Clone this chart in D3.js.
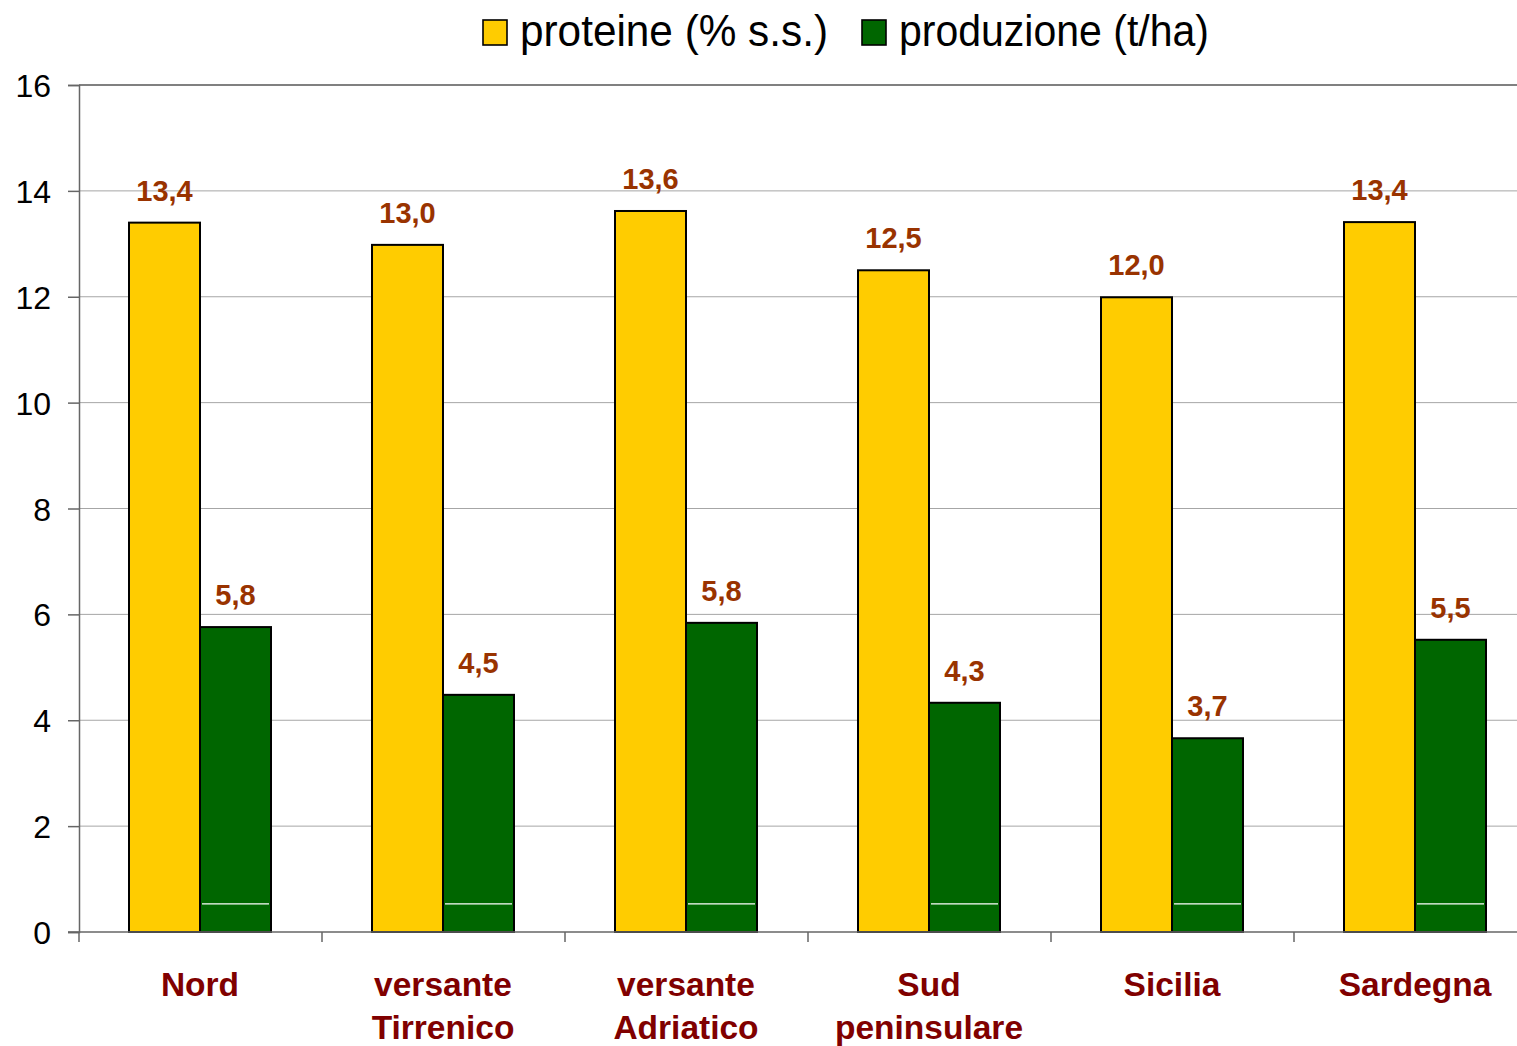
<!DOCTYPE html>
<html><head><meta charset="utf-8">
<script src="https://cdn.jsdelivr.net/npm/d3@7"></script>
<style>html,body{margin:0;padding:0;background:#fff;}svg{display:block;}</style>
</head><body>
<svg id="chart" width="1517" height="1046"></svg>
<script>
const categories = [["Nord"], ["versante", "Tirrenico"], ["versante", "Adriatico"], ["Sud", "peninsulare"], ["Sicilia"], ["Sardegna"]];
const seriesNames = ["proteine (% s.s.)", "produzione (t/ha)"];
const proteine = [13.4, 12.98, 13.62, 12.5, 11.99, 13.41];
const produzione = [5.76, 4.48, 5.84, 4.33, 3.66, 5.52];
const yTicks = [0, 2, 4, 6, 8, 10, 12, 14, 16];
const colors = ["#FFCC00", "#006600"];

const svg = d3.select("#chart");
const m = {left: 79, right: 1537, top: 85, bottom: 932};
const keys = categories.map(c => c.join(" "));
const x = d3.scaleBand().domain(keys).range([m.left, m.right]).padding(0);
const inner = d3.scaleBand().domain([0, 1]).range([50, 192]).padding(0);
const y = d3.scaleLinear().domain([0, 16]).range([m.bottom, m.top]);
const fmt = v => d3.format(".1f")(v).replace(".", ",");
const FONT = "Liberation Sans, Arial, sans-serif";

// gridlines
svg.append("g").selectAll("line").data(yTicks.filter(t => t > 0)).join("line")
  .attr("x1", m.left).attr("x2", m.right)
  .attr("y1", d => y(d)).attr("y2", d => y(d))
  .attr("stroke", d => d === 16 ? "#808080" : "#a6a6a6")
  .attr("stroke-width", d => d === 16 ? 2 : 1);

// y axis
const yAxis = svg.append("g").attr("transform", `translate(${m.left},0)`)
  .call(d3.axisLeft(y).tickValues(yTicks).tickSize(11).tickPadding(17).tickFormat(d3.format("d")));
yAxis.select(".domain").attr("stroke", "#666").attr("stroke-width", 1.5);
yAxis.selectAll(".tick line").attr("stroke", "#666").attr("stroke-width", 1.5);
yAxis.selectAll("text").attr("font-family", FONT).attr("font-size", 32).attr("fill", "#000").attr("dy", "0.36em");

// bars
const data = keys.map((k, i) => ({k, vals: [proteine[i], produzione[i]]}));
const groups = svg.append("g").selectAll("g").data(data).join("g")
  .attr("transform", d => `translate(${x(d.k)},0)`);
groups.selectAll("rect").data(d => d.vals.map((v, j) => ({v, j}))).join("rect")
  .attr("x", d => inner(d.j)).attr("width", inner.bandwidth())
  .attr("y", d => y(d.v)).attr("height", d => y(0) - y(d.v))
  .attr("fill", d => colors[d.j]).attr("stroke", "#000").attr("stroke-width", 2);
// thin white line inside green bars
groups.append("line")
  .attr("x1", inner(1) + 2).attr("x2", inner(1) + inner.bandwidth() - 2)
  .attr("y1", y(0.53)).attr("y2", y(0.53))
  .attr("stroke", "#fff").attr("stroke-width", 1.2);
// value labels
groups.selectAll("text.val").data(d => d.vals.map((v, j) => ({v, j}))).join("text")
  .attr("class", "val")
  .attr("x", d => inner(d.j) + inner.bandwidth() / 2)
  .attr("y", d => y(d.v) - 22)
  .attr("text-anchor", "middle")
  .attr("font-family", FONT).attr("font-weight", "bold")
  .attr("font-size", 29).attr("fill", "#993300")
  .text(d => fmt(d.v));

// x axis
const xAxis = svg.append("g").attr("transform", `translate(0,${m.bottom})`);
xAxis.append("line").attr("x1", m.left - 11).attr("x2", m.right).attr("y1", 0).attr("y2", 0)
  .attr("stroke", "#666").attr("stroke-width", 1.5);
xAxis.selectAll("line.tk").data(keys.map(k => x(k))).join("line").attr("class", "tk")
  .attr("x1", d => d).attr("x2", d => d).attr("y1", 0).attr("y2", 10)
  .attr("stroke", "#666").attr("stroke-width", 1.5);
const cl = xAxis.selectAll("text").data(categories).join("text")
  .attr("x", (d, i) => x(keys[i]) + inner(0) + inner.bandwidth())
  .attr("y", 64)
  .attr("text-anchor", "middle")
  .attr("font-family", FONT).attr("font-weight", "bold")
  .attr("font-size", 33.5).attr("fill", "#800000");
cl.selectAll("tspan").data(d => d).join("tspan")
  .attr("x", function() { return this.parentNode.getAttribute("x"); })
  .attr("dy", (d, i) => i === 0 ? 0 : 43)
  .text(d => d);

// legend
const leg = svg.append("g");
const legX = [483, 862];
const legW = [308, 310];
seriesNames.forEach((n, i) => {
  leg.append("rect").attr("x", legX[i]).attr("y", 20).attr("width", 24).attr("height", 25)
    .attr("fill", colors[i]).attr("stroke", "#000").attr("stroke-width", 1.6);
  leg.append("text").attr("x", legX[i] + 37).attr("y", 46)
    .attr("font-family", "Liberation Sans Narrow, Arial Narrow, Liberation Sans, sans-serif")
    .attr("font-size", 44).attr("fill", "#000").text(n)
    .attr("textLength", legW[i]).attr("lengthAdjust", "spacingAndGlyphs");
});
</script>
</body></html>
